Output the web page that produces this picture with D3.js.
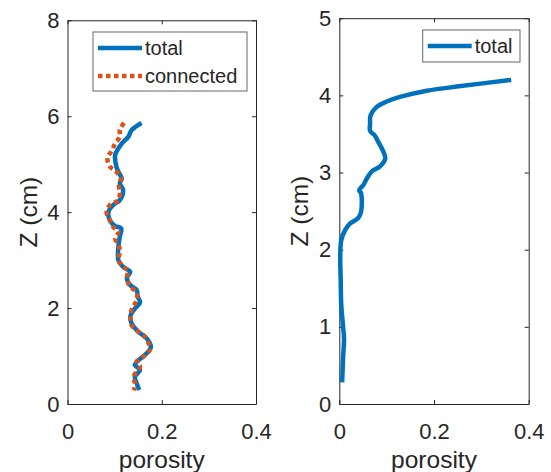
<!DOCTYPE html>
<html>
<head>
<meta charset="utf-8">
<script src="https://cdn.jsdelivr.net/npm/d3@7"></script>
<style>
  html, body { margin: 0; padding: 0; background: #fff; }
  text { font-family: "Liberation Sans", Arial, sans-serif; fill: #262626; }
</style>
</head>
<body>
<div id="chart"></div>
<script>
// left panel: total vs connected porosity, depth in cm
var zTotalL = [5.86, 5.71, 5.57, 5.43, 5.26, 5.19, 4.94, 4.84, 4.70, 4.60, 4.46, 4.25, 4.15, 4.01, 3.83, 3.71, 3.66, 3.49, 3.28, 3.00,
  2.86, 2.76, 2.62, 2.48, 2.375, 2.24, 2.12, 1.99, 1.85, 1.68, 1.51, 1.37, 1.19, 1.06, 0.88, 0.81, 0.71, 0.57, 0.43, 0.29]
var poroTotalL = [0.157, 0.136, 0.129, 0.115, 0.104, 0.101, 0.104, 0.108, 0.115, 0.111, 0.118, 0.111, 0.097, 0.087, 0.090, 0.101, 0.114, 0.111, 0.108, 0.108,
  0.118, 0.133, 0.126, 0.133, 0.147, 0.149, 0.154, 0.143, 0.134, 0.136, 0.150, 0.168, 0.177, 0.168, 0.147, 0.143, 0.154, 0.143, 0.147, 0.152]

var zConn = [5.86, 5.72, 5.57, 5.43, 5.28, 5.14, 4.96, 4.85, 4.70, 4.56, 4.42, 4.25, 4.15, 3.99, 3.85, 3.69, 3.59, 3.45, 3.31, 3.17,
  3.00, 2.86, 2.78, 2.62, 2.48, 2.31, 2.17, 1.96, 1.78, 1.64, 1.51, 1.39, 1.13, 0.99, 0.88, 0.78, 0.57, 0.43, 0.28]
var poroConn = [0.120, 0.111, 0.111, 0.101, 0.094, 0.085, 0.089, 0.103, 0.113, 0.109, 0.111, 0.108, 0.090, 0.083, 0.089, 0.097, 0.108, 0.101, 0.109, 0.111,
  0.108, 0.118, 0.128, 0.126, 0.131, 0.147, 0.147, 0.136, 0.134, 0.136, 0.150, 0.165, 0.175, 0.161, 0.147, 0.154, 0.140, 0.143, 0.141]

// right panel: total porosity only
var zTotalR = [0.28, 0.6, 0.85, 1.0, 1.3, 1.6, 1.9, 2.12, 2.25, 2.34, 2.41, 2.49, 2.73, 2.77, 2.84, 2.92, 3.01, 3.08, 3.18, 3.27,
  3.40, 3.48, 3.54, 3.63, 3.74, 3.85, 3.92, 3.98, 4.06, 4.12, 4.20]
var poroTotalR = [0.006, 0.008, 0.010, 0.008, 0.004, 0.003, 0.002, 0.004, 0.012, 0.023, 0.040, 0.046, 0.046, 0.042, 0.051, 0.058, 0.068, 0.086, 0.097, 0.093,
  0.082, 0.075, 0.065, 0.065, 0.066, 0.079, 0.100, 0.128, 0.185, 0.257, 0.363]

var xTicks = [0, 0.2, 0.4]
var yTicksL = [0, 2, 4, 6, 8]
var yTicksR = [0, 1, 2, 3, 4, 5]

var blue = "#0072BD", orange = "#D95319", ink = "#262626"

var svg = d3.select("#chart").append("svg")
  .attr("width", 551).attr("height", 472)

function panel(opt) {
  var x = d3.scaleLinear().domain([0, 0.4]).range([opt.left, opt.right])
  var y = d3.scaleLinear().domain([0, opt.ymax]).range([opt.bottom, opt.top])
  var g = svg.append("g")

  function styleAxis(a) {
    a.attr("font-family", null).attr("font-size", null)
    a.selectAll("line, path").attr("stroke", ink)
    a.selectAll("text").attr("fill", ink).style("font-size", "22px")
  }

  g.append("g").attr("transform", `translate(0,${opt.bottom})`)
    .call(d3.axisBottom(x).tickValues(xTicks).tickFormat(d3.format("")).tickSizeInner(-4).tickSizeOuter(0).tickPadding(19))
    .call(styleAxis)
  g.append("g").attr("transform", `translate(0,${opt.top})`)
    .call(d3.axisTop(x).tickValues(xTicks).tickFormat("").tickSizeInner(-4).tickSizeOuter(0))
    .call(styleAxis)
  g.append("g").attr("transform", `translate(${opt.left},0)`)
    .call(d3.axisLeft(y).tickValues(opt.yticks).tickFormat(d3.format("")).tickSizeInner(-4).tickSizeOuter(0).tickPadding(8))
    .call(styleAxis)
  g.append("g").attr("transform", `translate(${opt.right},0)`)
    .call(d3.axisRight(y).tickValues(opt.yticks).tickFormat("").tickSizeInner(-4).tickSizeOuter(0))
    .call(styleAxis)

  // labels
  g.append("text")
    .attr("x", (opt.left + opt.right) / 2).attr("y", 468)
    .attr("text-anchor", "middle").style("font-size", "24.5px")
    .text("porosity")
  g.append("text")
    .attr("transform", `translate(${opt.ylabX},${(opt.top + opt.bottom) / 2}) rotate(-90)`)
    .attr("text-anchor", "middle").attr("dy", "0.35em").style("font-size", "24.5px")
    .text("Z (cm)")

  var line = d3.line()
    .x(d => x(d[1]))
    .y(d => y(d[0]))
    .curve(d3.curveCatmullRom)

  opt.series.forEach(s => {
    g.append("path")
      .datum(d3.zip(s.z, s.p))
      .attr("fill", "none")
      .attr("stroke", s.color)
      .attr("stroke-width", 4.5)
      .attr("stroke-dasharray", s.dash)
      .attr("stroke-linejoin", "round")
      .attr("d", line)
  })

  // legend
  var lg = opt.legend
  g.append("rect")
    .attr("x", lg.x).attr("y", lg.y).attr("width", lg.w).attr("height", lg.h)
    .attr("fill", "#fff").attr("stroke", "#666").attr("stroke-width", 1)
  opt.series.forEach((s, i) => {
    var cy = lg.y + 16 + i * 28
    g.append("line")
      .attr("x1", lg.x + 5).attr("x2", lg.x + 49)
      .attr("y1", cy).attr("y2", cy)
      .attr("stroke", s.color).attr("stroke-width", 4.5)
      .attr("stroke-dasharray", s.dash)
    g.append("text")
      .attr("x", lg.x + 52).attr("y", cy).attr("dy", "0.36em")
      .style("font-size", "20px")
      .text(s.name)
  })
}

panel({
  left: 67.5, right: 256, top: 20.3, bottom: 404, ymax: 8, yticks: yTicksL, ylabX: 28,
  legend: {x: 93, y: 32, w: 154, h: 59},
  series: [
    {name: "total", z: zTotalL, p: poroTotalL, color: blue, dash: null},
    {name: "connected", z: zConn, p: poroConn, color: orange, dash: "4.5,3.5"}
  ]
})

panel({
  left: 339.3, right: 528.7, top: 18.2, bottom: 404, ymax: 5, yticks: yTicksR, ylabX: 299.5,
  legend: {x: 422.7, y: 30, w: 97.3, h: 32},
  series: [
    {name: "total", z: zTotalR, p: poroTotalR, color: blue, dash: null}
  ]
})
</script>
</body>
</html>
